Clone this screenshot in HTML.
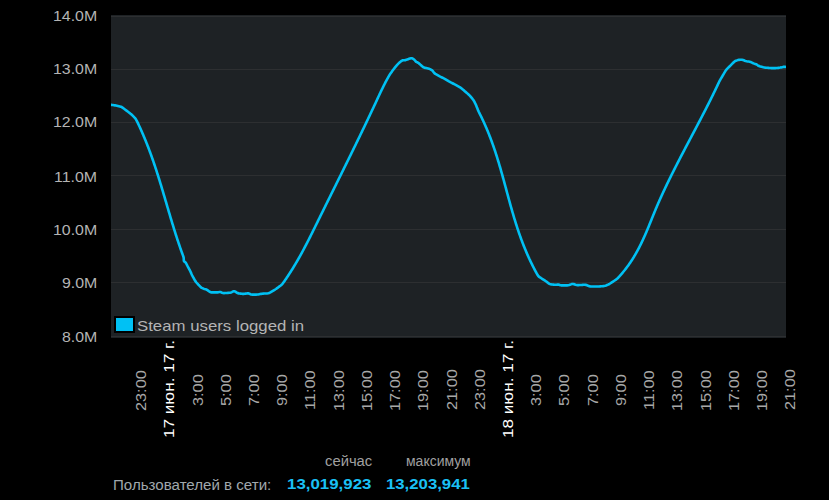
<!DOCTYPE html>
<html><head><meta charset="utf-8"><style>
html,body{margin:0;padding:0;background:#000;width:829px;height:500px;overflow:hidden;position:relative;font-family:"Liberation Sans",sans-serif;}
.plot{position:absolute;left:111px;top:15px;width:675px;height:323px;background:#1e2225;}
.t{position:absolute;left:0;top:0;line-height:20px;white-space:nowrap;transform-origin:0 0;}
.yl{color:#b4b4b4;}
.xl{color:#a8a8a8;}
.xl.w{color:#fff;}
.sw{position:absolute;left:114px;top:316px;width:17px;height:13px;border:2px solid #000;background:#00c1f4;}
.lt{color:#b4b4b4;}
.hd{color:#a0a0a0;}
.lbl{color:#a0a8ad;}
.num{color:#1ac0f5;}
</style></head><body>
<div class="plot"></div>
<svg width="829" height="500" style="position:absolute;left:0;top:0">
<rect x="111" y="16" width="675" height="1" fill="#2d2f31"/>
<rect x="111" y="69" width="675" height="1" fill="#2d2f31"/>
<rect x="111" y="122" width="675" height="1" fill="#2d2f31"/>
<rect x="111" y="175" width="675" height="1" fill="#2d2f31"/>
<rect x="111" y="229" width="675" height="1" fill="#2d2f31"/>
<rect x="111" y="282" width="675" height="1" fill="#2d2f31"/>
<rect x="111" y="336" width="675" height="1" fill="#2d2f31"/>
<defs><clipPath id="pc"><rect x="111" y="15" width="675" height="323"/></clipPath></defs>
<path clip-path="url(#pc)" d="M111.31,104.84 L112.03,104.94 L112.98,105.08 L113.97,105.22 L114.96,105.36 L115.95,105.52 L116.92,105.72 L117.90,105.95 L118.87,106.18 L119.84,106.41 L120.80,106.67 L121.70,107.06 L122.53,107.60 L123.33,108.20 L124.12,108.80 L124.92,109.41 L125.71,110.02 L126.51,110.62 L127.30,111.23 L128.09,111.84 L128.89,112.45 L129.68,113.06 L130.47,113.67 L131.24,114.30 L131.97,114.98 L132.69,115.69 L133.39,116.39 L134.10,117.10 L134.80,117.81 L135.45,118.56 L135.98,119.39 L136.45,120.27 L136.91,121.16 L137.36,122.06 L137.80,122.95 L138.23,123.86 L138.66,124.76 L139.08,125.67 L139.50,126.57 L139.92,127.48 L140.33,128.39 L140.74,129.30 L141.15,130.22 L141.56,131.13 L141.96,132.05 L142.36,132.96 L142.76,133.88 L143.15,134.80 L143.54,135.72 L143.93,136.64 L144.32,137.56 L144.70,138.49 L145.08,139.41 L145.46,140.34 L145.84,141.26 L146.21,142.19 L146.58,143.12 L146.95,144.05 L147.31,144.98 L147.68,145.91 L148.04,146.84 L148.40,147.78 L148.75,148.71 L149.11,149.65 L149.46,150.59 L149.81,151.52 L150.16,152.46 L150.50,153.40 L150.84,154.34 L151.18,155.28 L151.52,156.22 L151.85,157.16 L152.18,158.11 L152.52,159.05 L152.84,159.99 L153.17,160.94 L153.50,161.88 L153.82,162.83 L154.14,163.78 L154.46,164.73 L154.78,165.67 L155.10,166.62 L155.42,167.57 L155.73,168.52 L156.04,169.47 L156.35,170.42 L156.66,171.37 L156.97,172.32 L157.27,173.27 L157.58,174.23 L157.88,175.18 L158.18,176.13 L158.48,177.09 L158.78,178.04 L159.07,179.00 L159.37,179.95 L159.67,180.91 L159.96,181.86 L160.26,182.82 L160.55,183.78 L160.84,184.73 L161.13,185.69 L161.42,186.65 L161.71,187.60 L162.00,188.56 L162.29,189.52 L162.57,190.48 L162.86,191.43 L163.14,192.39 L163.43,193.35 L163.71,194.31 L164.00,195.27 L164.28,196.23 L164.56,197.19 L164.84,198.15 L165.13,199.11 L165.41,200.06 L165.69,201.02 L165.98,201.98 L166.26,202.94 L166.54,203.90 L166.82,204.86 L167.10,205.82 L167.38,206.78 L167.66,207.74 L167.95,208.70 L168.23,209.66 L168.51,210.62 L168.80,211.58 L169.08,212.54 L169.37,213.49 L169.65,214.45 L169.93,215.41 L170.22,216.37 L170.50,217.33 L170.79,218.29 L171.08,219.25 L171.37,220.20 L171.66,221.16 L171.95,222.12 L172.24,223.07 L172.53,224.03 L172.82,224.99 L173.11,225.94 L173.41,226.90 L173.70,227.85 L174.00,228.81 L174.29,229.77 L174.59,230.72 L174.89,231.67 L175.19,232.63 L175.49,233.58 L175.80,234.53 L176.10,235.49 L176.41,236.44 L176.72,237.39 L177.03,238.34 L177.34,239.29 L177.65,240.24 L177.97,241.19 L178.29,242.14 L178.61,243.08 L178.93,244.03 L179.25,244.98 L179.57,245.92 L179.90,246.87 L180.22,247.82 L180.55,248.76 L180.88,249.70 L181.21,250.65 L181.55,251.59 L181.89,252.53 L182.23,253.47 L182.57,254.41 L182.92,255.35 L183.26,256.29 L183.56,257.23 L183.72,258.20 L183.77,259.20 L183.79,260.19 L183.94,261.09 L184.46,261.71 L185.22,262.19 L185.84,262.87 L186.33,263.73 L186.79,264.62 L187.24,265.51 L187.71,266.39 L188.19,267.27 L188.67,268.14 L189.16,269.02 L189.64,269.89 L190.10,270.78 L190.52,271.68 L190.93,272.60 L191.32,273.52 L191.73,274.43 L192.15,275.34 L192.61,276.23 L193.08,277.11 L193.56,277.98 L194.04,278.86 L194.52,279.74 L195.02,280.60 L195.58,281.42 L196.20,282.21 L196.84,282.98 L197.49,283.74 L198.16,284.47 L198.86,285.19 L199.56,285.91 L200.26,286.62 L200.97,287.31 L201.77,287.87 L202.67,288.28 L203.60,288.65 L204.55,288.97 L205.50,289.23 L206.44,289.54 L207.30,290.00 L208.11,290.58 L208.91,291.18 L209.71,291.77 L210.56,292.21 L211.50,292.38 L212.50,292.40 L213.50,292.40 L214.50,292.40 L215.50,292.40 L216.50,292.40 L217.49,292.37 L218.47,292.23 L219.41,292.01 L220.33,291.99 L221.23,292.30 L222.12,292.73 L223.04,293.04 L224.01,293.12 L225.00,293.07 L226.00,293.01 L227.00,292.94 L228.00,292.88 L228.99,292.81 L229.98,292.71 L230.93,292.47 L231.82,292.06 L232.70,291.59 L233.57,291.20 L234.41,291.20 L235.24,291.62 L236.06,292.18 L236.89,292.73 L237.77,293.14 L238.73,293.36 L239.71,293.51 L240.70,293.64 L241.69,293.78 L242.69,293.89 L243.68,293.90 L244.66,293.79 L245.65,293.64 L246.64,293.50 L247.63,293.37 L248.58,293.41 L249.48,293.73 L250.35,294.18 L251.27,294.49 L252.24,294.59 L253.24,294.60 L254.24,294.60 L255.24,294.60 L256.24,294.60 L257.24,294.57 L258.23,294.47 L259.21,294.29 L260.19,294.09 L261.17,293.89 L262.15,293.71 L263.14,293.60 L264.14,293.55 L265.14,293.51 L266.14,293.48 L267.13,293.43 L268.11,293.31 L269.03,292.99 L269.90,292.53 L270.77,292.03 L271.63,291.53 L272.50,291.03 L273.36,290.53 L274.23,290.02 L275.09,289.52 L275.94,288.99 L276.76,288.42 L277.57,287.83 L278.37,287.23 L279.17,286.63 L279.97,286.04 L280.77,285.44 L281.55,284.82 L282.25,284.12 L282.86,283.33 L283.44,282.52 L284.02,281.71 L284.59,280.89 L285.16,280.06 L285.73,279.24 L286.29,278.41 L286.85,277.59 L287.41,276.75 L287.96,275.92 L288.52,275.09 L289.06,274.25 L289.61,273.41 L290.15,272.57 L290.69,271.73 L291.22,270.88 L291.76,270.04 L292.29,269.19 L292.81,268.34 L293.33,267.49 L293.85,266.63 L294.37,265.78 L294.89,264.92 L295.40,264.06 L295.91,263.20 L296.42,262.34 L296.92,261.48 L297.42,260.61 L297.92,259.74 L298.42,258.88 L298.91,258.01 L299.40,257.14 L299.89,256.26 L300.38,255.39 L300.86,254.51 L301.34,253.64 L301.82,252.76 L302.30,251.88 L302.78,251.00 L303.25,250.12 L303.72,249.24 L304.19,248.36 L304.66,247.47 L305.13,246.59 L305.59,245.70 L306.05,244.82 L306.51,243.93 L306.97,243.04 L307.43,242.15 L307.89,241.26 L308.34,240.37 L308.80,239.48 L309.25,238.59 L309.70,237.70 L310.15,236.80 L310.60,235.91 L311.04,235.01 L311.49,234.12 L311.94,233.22 L312.38,232.33 L312.83,231.43 L313.27,230.54 L313.71,229.64 L314.16,228.74 L314.60,227.85 L315.04,226.95 L315.48,226.05 L315.93,225.16 L316.37,224.26 L316.81,223.36 L317.25,222.46 L317.69,221.57 L318.13,220.67 L318.57,219.77 L319.01,218.88 L319.46,217.98 L319.90,217.08 L320.34,216.19 L320.78,215.29 L321.23,214.39 L321.67,213.49 L322.11,212.60 L322.55,211.70 L323.00,210.80 L323.44,209.91 L323.88,209.01 L324.32,208.11 L324.77,207.22 L325.21,206.32 L325.65,205.43 L326.10,204.53 L326.54,203.63 L326.99,202.74 L327.43,201.84 L327.87,200.94 L328.32,200.05 L328.76,199.15 L329.20,198.26 L329.65,197.36 L330.09,196.46 L330.53,195.57 L330.98,194.67 L331.42,193.77 L331.87,192.88 L332.31,191.98 L332.75,191.09 L333.20,190.19 L333.64,189.30 L334.09,188.40 L334.53,187.50 L334.97,186.61 L335.42,185.71 L335.86,184.81 L336.31,183.92 L336.75,183.02 L337.19,182.13 L337.64,181.23 L338.08,180.33 L338.52,179.44 L338.97,178.54 L339.41,177.65 L339.86,176.75 L340.30,175.85 L340.74,174.96 L341.18,174.06 L341.63,173.16 L342.07,172.27 L342.51,171.37 L342.95,170.47 L343.40,169.58 L343.84,168.68 L344.28,167.78 L344.72,166.88 L345.17,165.99 L345.61,165.09 L346.05,164.19 L346.49,163.30 L346.94,162.40 L347.38,161.50 L347.82,160.61 L348.26,159.71 L348.70,158.81 L349.15,157.92 L349.59,157.02 L350.03,156.12 L350.47,155.22 L350.91,154.32 L351.35,153.43 L351.79,152.53 L352.23,151.63 L352.67,150.73 L353.11,149.83 L353.54,148.94 L353.98,148.04 L354.42,147.14 L354.86,146.24 L355.30,145.34 L355.73,144.44 L356.17,143.54 L356.61,142.64 L357.05,141.74 L357.48,140.84 L357.92,139.94 L358.36,139.04 L358.80,138.15 L359.23,137.25 L359.67,136.35 L360.10,135.45 L360.54,134.54 L360.97,133.64 L361.41,132.74 L361.84,131.84 L362.28,130.94 L362.71,130.04 L363.14,129.14 L363.58,128.24 L364.01,127.34 L364.44,126.44 L364.87,125.53 L365.31,124.63 L365.74,123.73 L366.17,122.83 L366.60,121.93 L367.03,121.02 L367.46,120.12 L367.89,119.22 L368.32,118.31 L368.75,117.41 L369.18,116.51 L369.60,115.60 L370.03,114.70 L370.46,113.80 L370.89,112.89 L371.32,111.99 L371.74,111.08 L372.17,110.18 L372.60,109.27 L373.02,108.37 L373.45,107.46 L373.87,106.56 L374.29,105.65 L374.72,104.75 L375.14,103.84 L375.56,102.93 L375.98,102.03 L376.41,101.12 L376.83,100.21 L377.25,99.31 L377.67,98.40 L378.09,97.49 L378.51,96.58 L378.93,95.68 L379.36,94.77 L379.78,93.87 L380.21,92.97 L380.64,92.06 L381.07,91.16 L381.50,90.26 L381.93,89.35 L382.37,88.46 L382.82,87.56 L383.27,86.67 L383.71,85.77 L384.16,84.88 L384.61,83.98 L385.06,83.09 L385.51,82.20 L385.98,81.32 L386.47,80.44 L386.95,79.57 L387.44,78.69 L387.92,77.82 L388.41,76.95 L388.89,76.07 L389.39,75.21 L389.93,74.36 L390.50,73.54 L391.08,72.73 L391.66,71.91 L392.24,71.10 L392.82,70.29 L393.41,69.48 L394.02,68.68 L394.64,67.90 L395.26,67.12 L395.89,66.34 L396.52,65.57 L397.19,64.83 L397.89,64.11 L398.60,63.40 L399.31,62.70 L400.05,62.03 L400.83,61.41 L401.64,60.84 L402.48,60.36 L403.38,60.19 L404.34,60.24 L405.30,60.15 L406.24,59.86 L407.17,59.51 L408.11,59.17 L409.06,58.85 L410.01,58.53 L410.95,58.29 L411.87,58.31 L412.75,58.67 L413.60,59.17 L414.37,59.77 L415.00,60.52 L415.59,61.30 L416.30,61.92 L417.17,62.31 L418.06,62.71 L418.85,63.29 L419.59,63.95 L420.33,64.62 L421.07,65.29 L421.81,65.97 L422.56,66.63 L423.34,67.22 L424.22,67.62 L425.18,67.88 L426.15,68.11 L427.12,68.34 L428.10,68.56 L429.07,68.80 L430.01,69.11 L430.89,69.55 L431.74,70.07 L432.50,70.69 L433.12,71.45 L433.69,72.27 L434.28,73.06 L435.00,73.72 L435.84,74.24 L436.71,74.73 L437.58,75.21 L438.46,75.69 L439.34,76.16 L440.23,76.62 L441.13,77.06 L442.02,77.51 L442.92,77.96 L443.81,78.41 L444.70,78.87 L445.56,79.36 L446.42,79.89 L447.27,80.42 L448.11,80.94 L448.97,81.45 L449.86,81.92 L450.75,82.37 L451.64,82.82 L452.54,83.27 L453.43,83.72 L454.32,84.16 L455.21,84.62 L456.10,85.09 L456.98,85.57 L457.86,86.04 L458.73,86.52 L459.60,87.02 L460.42,87.58 L461.20,88.20 L461.97,88.84 L462.74,89.48 L463.51,90.12 L464.27,90.76 L465.03,91.41 L465.79,92.07 L466.54,92.72 L467.30,93.38 L468.05,94.04 L468.80,94.70 L469.52,95.39 L470.19,96.13 L470.84,96.89 L471.48,97.66 L472.12,98.42 L472.76,99.20 L473.36,99.99 L473.89,100.83 L474.35,101.71 L474.80,102.61 L475.25,103.50 L475.69,104.40 L476.10,105.31 L476.48,106.23 L476.85,107.16 L477.22,108.09 L477.58,109.02 L477.95,109.95 L478.33,110.88 L478.74,111.79 L479.18,112.68 L479.64,113.57 L480.09,114.47 L480.53,115.36 L480.98,116.26 L481.42,117.16 L481.85,118.06 L482.28,118.96 L482.71,119.86 L483.14,120.77 L483.56,121.68 L483.97,122.58 L484.39,123.49 L484.80,124.41 L485.20,125.32 L485.60,126.24 L486.00,127.15 L486.40,128.07 L486.79,128.99 L487.18,129.91 L487.56,130.84 L487.94,131.76 L488.31,132.69 L488.69,133.62 L489.06,134.55 L489.43,135.48 L489.79,136.41 L490.15,137.34 L490.51,138.27 L490.86,139.21 L491.21,140.15 L491.56,141.08 L491.90,142.02 L492.24,142.96 L492.58,143.90 L492.92,144.85 L493.25,145.79 L493.58,146.73 L493.90,147.68 L494.23,148.63 L494.55,149.57 L494.87,150.52 L495.18,151.47 L495.49,152.42 L495.80,153.37 L496.11,154.32 L496.42,155.27 L496.72,156.23 L497.02,157.18 L497.32,158.14 L497.61,159.09 L497.91,160.05 L498.20,161.00 L498.49,161.96 L498.78,162.92 L499.07,163.88 L499.35,164.83 L499.63,165.79 L499.92,166.75 L500.20,167.71 L500.48,168.67 L500.75,169.63 L501.02,170.60 L501.29,171.56 L501.57,172.52 L501.84,173.48 L502.11,174.45 L502.38,175.41 L502.65,176.37 L502.91,177.34 L503.18,178.30 L503.45,179.26 L503.71,180.23 L503.98,181.19 L504.24,182.16 L504.50,183.12 L504.77,184.09 L505.03,185.05 L505.29,186.02 L505.55,186.98 L505.81,187.95 L506.07,188.91 L506.33,189.88 L506.59,190.84 L506.85,191.81 L507.11,192.78 L507.37,193.74 L507.63,194.71 L507.89,195.67 L508.15,196.64 L508.42,197.60 L508.68,198.57 L508.94,199.53 L509.21,200.50 L509.48,201.46 L509.74,202.42 L510.00,203.39 L510.27,204.35 L510.54,205.32 L510.81,206.28 L511.08,207.24 L511.35,208.20 L511.63,209.17 L511.90,210.13 L512.18,211.09 L512.45,212.05 L512.73,213.01 L513.01,213.97 L513.29,214.93 L513.58,215.89 L513.86,216.85 L514.15,217.80 L514.44,218.76 L514.73,219.72 L515.02,220.67 L515.32,221.63 L515.62,222.58 L515.92,223.54 L516.22,224.49 L516.52,225.45 L516.83,226.40 L517.14,227.35 L517.45,228.30 L517.76,229.25 L518.08,230.20 L518.40,231.14 L518.72,232.09 L519.04,233.04 L519.37,233.98 L519.70,234.93 L520.03,235.87 L520.37,236.81 L520.71,237.75 L521.05,238.69 L521.40,239.63 L521.74,240.57 L522.10,241.50 L522.45,242.44 L522.80,243.37 L523.17,244.30 L523.53,245.24 L523.90,246.17 L524.27,247.09 L524.65,248.02 L525.03,248.95 L525.41,249.87 L525.79,250.79 L526.18,251.71 L526.57,252.63 L526.97,253.55 L527.37,254.47 L527.77,255.39 L528.18,256.30 L528.59,257.21 L529.01,258.12 L529.42,259.03 L529.85,259.93 L530.27,260.84 L530.70,261.74 L531.13,262.64 L531.57,263.54 L532.01,264.44 L532.46,265.33 L532.91,266.23 L533.36,267.12 L533.82,268.01 L534.28,268.90 L534.74,269.78 L535.21,270.67 L535.68,271.55 L536.16,272.43 L536.64,273.30 L537.13,274.18 L537.62,275.05 L538.15,275.88 L538.81,276.59 L539.61,277.17 L540.45,277.71 L541.29,278.25 L542.14,278.78 L542.98,279.32 L543.82,279.86 L544.66,280.40 L545.48,280.97 L546.29,281.57 L547.09,282.16 L547.89,282.76 L548.69,283.36 L549.52,283.89 L550.42,284.22 L551.40,284.38 L552.39,284.50 L553.38,284.61 L554.38,284.71 L555.37,284.74 L556.37,284.69 L557.36,284.62 L558.35,284.62 L559.29,284.83 L560.21,285.15 L561.17,285.35 L562.16,285.40 L563.16,285.40 L564.16,285.40 L565.16,285.40 L566.16,285.40 L567.16,285.39 L568.14,285.31 L569.10,285.07 L570.03,284.73 L570.97,284.37 L571.90,284.05 L572.84,283.92 L573.78,284.10 L574.72,284.41 L575.67,284.73 L576.62,285.00 L577.59,285.13 L578.59,285.11 L579.58,285.05 L580.58,284.99 L581.58,284.94 L582.58,284.88 L583.58,284.82 L584.57,284.78 L585.55,284.83 L586.50,285.08 L587.42,285.45 L588.34,285.84 L589.26,286.19 L590.23,286.38 L591.22,286.43 L592.22,286.46 L593.22,286.48 L594.22,286.51 L595.22,286.53 L596.22,286.55 L597.22,286.57 L598.22,286.56 L599.21,286.50 L600.21,286.40 L601.20,286.30 L602.20,286.19 L603.19,286.09 L604.18,285.97 L605.15,285.77 L606.09,285.44 L607.02,285.07 L607.94,284.69 L608.84,284.26 L609.70,283.76 L610.54,283.22 L611.37,282.67 L612.21,282.11 L613.04,281.56 L613.88,281.01 L614.71,280.46 L615.54,279.91 L616.36,279.34 L617.13,278.71 L617.84,278.01 L618.52,277.28 L619.21,276.55 L619.88,275.81 L620.54,275.06 L621.20,274.31 L621.86,273.56 L622.51,272.80 L623.15,272.03 L623.78,271.25 L624.41,270.48 L625.04,269.70 L625.65,268.91 L626.26,268.11 L626.87,267.32 L627.46,266.52 L628.05,265.71 L628.63,264.90 L629.21,264.08 L629.78,263.26 L630.35,262.43 L630.91,261.60 L631.46,260.77 L632.00,259.93 L632.54,259.09 L633.07,258.24 L633.60,257.39 L634.11,256.53 L634.63,255.68 L635.14,254.82 L635.64,253.95 L636.13,253.08 L636.62,252.21 L637.11,251.33 L637.58,250.46 L638.06,249.58 L638.53,248.69 L638.99,247.80 L639.45,246.92 L639.90,246.03 L640.35,245.13 L640.79,244.23 L641.23,243.34 L641.67,242.44 L642.09,241.53 L642.52,240.63 L642.94,239.72 L643.36,238.81 L643.78,237.90 L644.19,236.99 L644.59,236.08 L645.00,235.16 L645.40,234.25 L645.80,233.33 L646.19,232.41 L646.59,231.49 L646.98,230.57 L647.36,229.65 L647.75,228.73 L648.13,227.80 L648.51,226.88 L648.89,225.95 L649.27,225.03 L649.65,224.10 L650.02,223.17 L650.40,222.25 L650.77,221.32 L651.15,220.39 L651.52,219.47 L651.90,218.54 L652.27,217.61 L652.64,216.68 L653.02,215.76 L653.40,214.83 L653.78,213.91 L654.16,212.98 L654.54,212.06 L654.92,211.13 L655.30,210.21 L655.68,209.28 L656.07,208.36 L656.46,207.44 L656.85,206.52 L657.24,205.60 L657.64,204.68 L658.03,203.76 L658.43,202.85 L658.83,201.93 L659.24,201.01 L659.64,200.10 L660.05,199.19 L660.46,198.27 L660.87,197.36 L661.28,196.45 L661.70,195.54 L662.11,194.63 L662.53,193.72 L662.95,192.81 L663.37,191.91 L663.79,191.00 L664.21,190.10 L664.64,189.19 L665.07,188.29 L665.50,187.38 L665.92,186.48 L666.35,185.58 L666.79,184.68 L667.22,183.77 L667.65,182.87 L668.09,181.97 L668.53,181.07 L668.97,180.18 L669.40,179.28 L669.84,178.38 L670.28,177.48 L670.73,176.58 L671.17,175.69 L671.62,174.79 L672.06,173.90 L672.51,173.00 L672.96,172.11 L673.40,171.21 L673.85,170.32 L674.31,169.43 L674.76,168.54 L675.21,167.65 L675.67,166.75 L676.12,165.86 L676.57,164.97 L677.03,164.08 L677.49,163.19 L677.94,162.30 L678.40,161.42 L678.86,160.53 L679.32,159.64 L679.78,158.75 L680.24,157.86 L680.70,156.97 L681.16,156.09 L681.62,155.20 L682.08,154.31 L682.55,153.43 L683.01,152.54 L683.47,151.65 L683.94,150.77 L684.40,149.88 L684.87,149.00 L685.33,148.11 L685.79,147.22 L686.26,146.34 L686.72,145.45 L687.19,144.57 L687.66,143.69 L688.12,142.80 L688.59,141.92 L689.05,141.03 L689.52,140.15 L689.99,139.26 L690.46,138.38 L690.93,137.50 L691.39,136.61 L691.86,135.73 L692.32,134.84 L692.79,133.96 L693.26,133.07 L693.72,132.19 L694.19,131.30 L694.65,130.42 L695.12,129.53 L695.59,128.65 L696.05,127.76 L696.52,126.88 L696.98,125.99 L697.45,125.11 L697.92,124.22 L698.38,123.34 L698.85,122.45 L699.31,121.57 L699.77,120.68 L700.24,119.80 L700.70,118.91 L701.16,118.02 L701.62,117.13 L702.08,116.25 L702.54,115.36 L703.00,114.47 L703.46,113.58 L703.92,112.69 L704.37,111.80 L704.83,110.91 L705.29,110.03 L705.75,109.14 L706.20,108.25 L706.66,107.35 L707.11,106.46 L707.56,105.57 L708.01,104.68 L708.46,103.79 L708.92,102.89 L709.37,102.00 L709.82,101.11 L710.26,100.21 L710.71,99.32 L711.15,98.42 L711.60,97.53 L712.04,96.63 L712.48,95.73 L712.92,94.83 L713.36,93.94 L713.80,93.04 L714.24,92.14 L714.68,91.24 L715.11,90.34 L715.55,89.44 L715.98,88.54 L716.41,87.64 L716.84,86.73 L717.27,85.83 L717.70,84.92 L718.12,84.02 L718.54,83.11 L718.97,82.21 L719.40,81.31 L719.88,80.43 L720.38,79.56 L720.88,78.70 L721.39,77.84 L721.90,76.98 L722.40,76.11 L722.91,75.25 L723.42,74.39 L723.92,73.53 L724.43,72.67 L724.94,71.81 L725.45,70.95 L726.01,70.12 L726.65,69.37 L727.35,68.65 L728.05,67.95 L728.76,67.24 L729.47,66.53 L730.18,65.82 L730.88,65.12 L731.59,64.41 L732.30,63.70 L733.00,63.00 L733.71,62.29 L734.44,61.61 L735.23,61.05 L736.13,60.67 L737.09,60.37 L738.05,60.09 L739.01,59.87 L740.00,59.75 L741.00,59.69 L741.98,59.72 L742.93,59.94 L743.85,60.30 L744.78,60.68 L745.71,61.03 L746.67,61.27 L747.66,61.43 L748.65,61.57 L749.63,61.74 L750.58,62.00 L751.49,62.40 L752.39,62.84 L753.29,63.27 L754.21,63.63 L755.16,63.92 L756.10,64.25 L756.95,64.72 L757.77,65.29 L758.61,65.82 L759.51,66.20 L760.47,66.49 L761.43,66.76 L762.39,67.02 L763.36,67.28 L764.33,67.48 L765.32,67.62 L766.32,67.72 L767.31,67.82 L768.31,67.91 L769.30,68.01 L770.30,68.07 L771.30,68.10 L772.30,68.10 L773.30,68.10 L774.30,68.10 L775.30,68.09 L776.30,68.05 L777.29,67.96 L778.28,67.84 L779.27,67.71 L780.26,67.58 L781.24,67.39 L782.21,67.14 L783.17,66.88 L784.13,66.77 L785.06,66.88 L785.77,67.04 L785.77,67.04" fill="none" stroke="#00c1f4" stroke-width="2.6" stroke-linejoin="round" stroke-linecap="round"/>
</svg>
<div class="sw"></div>
<div class="t yl" style="left:53.16px;top:6.00px;font-size:14px;transform:scaleX(1.1351)">14.0M</div>
<div class="t yl" style="left:53.16px;top:59.20px;font-size:14px;transform:scaleX(1.1351)">13.0M</div>
<div class="t yl" style="left:53.16px;top:112.40px;font-size:14px;transform:scaleX(1.1351)">12.0M</div>
<div class="t yl" style="left:54.30px;top:166.60px;font-size:14px;transform:scaleX(1.1351)">11.0M</div>
<div class="t yl" style="left:53.16px;top:219.80px;font-size:14px;transform:scaleX(1.1351)">10.0M</div>
<div class="t yl" style="left:62.25px;top:273.00px;font-size:14px;transform:scaleX(1.1351)">9.0M</div>
<div class="t yl" style="left:62.25px;top:327.20px;font-size:14px;transform:scaleX(1.1351)">8.0M</div>
<div class="t lt" style="left:136.68px;top:315.60px;font-size:15px;transform:scaleX(1.1196)">Steam users logged in</div>
<div class="t lbl" style="left:113.42px;top:474.50px;font-size:14px;transform:scaleX(1.0779)">Пользователей в сети:</div>
<div class="t num" style="left:286.60px;top:474.30px;font-size:14px;font-weight:bold;transform:scaleX(1.2043)">13,019,923</div>
<div class="t num" style="left:385.80px;top:474.30px;font-size:14px;font-weight:bold;transform:scaleX(1.1957)">13,203,941</div>
<div class="t hd" style="left:325.20px;top:450.60px;font-size:14px;transform:scaleX(1.0568)">сейчас</div>
<div class="t hd" style="left:406.30px;top:450.60px;font-size:14px;transform:scaleX(0.9984)">максимум</div>
<div class="t xl" style="left:131.06px;top:410.90px;font-size:14px;transform:rotate(-90deg) scaleX(1.1629)">23:00</div>
<div class="t xl w" style="left:159.29px;top:438.42px;font-size:14px;transform:rotate(-90deg) scaleX(1.2231)">17 июн. 17 г.</div>
<div class="t xl" style="left:187.51px;top:405.70px;font-size:14px;transform:rotate(-90deg) scaleX(1.1629)">3:00</div>
<div class="t xl" style="left:215.74px;top:406.28px;font-size:14px;transform:rotate(-90deg) scaleX(1.1629)">5:00</div>
<div class="t xl" style="left:243.97px;top:405.70px;font-size:14px;transform:rotate(-90deg) scaleX(1.1629)">7:00</div>
<div class="t xl" style="left:272.20px;top:406.28px;font-size:14px;transform:rotate(-90deg) scaleX(1.1629)">9:00</div>
<div class="t xl" style="left:300.42px;top:410.35px;font-size:14px;transform:rotate(-90deg) scaleX(1.1629)">11:00</div>
<div class="t xl" style="left:328.65px;top:410.93px;font-size:14px;transform:rotate(-90deg) scaleX(1.1629)">13:00</div>
<div class="t xl" style="left:356.88px;top:410.93px;font-size:14px;transform:rotate(-90deg) scaleX(1.1629)">15:00</div>
<div class="t xl" style="left:385.10px;top:410.93px;font-size:14px;transform:rotate(-90deg) scaleX(1.1629)">17:00</div>
<div class="t xl" style="left:413.33px;top:410.93px;font-size:14px;transform:rotate(-90deg) scaleX(1.1629)">19:00</div>
<div class="t xl" style="left:441.56px;top:410.35px;font-size:14px;transform:rotate(-90deg) scaleX(1.1629)">21:00</div>
<div class="t xl" style="left:469.78px;top:410.35px;font-size:14px;transform:rotate(-90deg) scaleX(1.1629)">23:00</div>
<div class="t xl w" style="left:498.01px;top:438.42px;font-size:14px;transform:rotate(-90deg) scaleX(1.2231)">18 июн. 17 г.</div>
<div class="t xl" style="left:526.24px;top:405.70px;font-size:14px;transform:rotate(-90deg) scaleX(1.1629)">3:00</div>
<div class="t xl" style="left:554.47px;top:406.28px;font-size:14px;transform:rotate(-90deg) scaleX(1.1629)">5:00</div>
<div class="t xl" style="left:582.69px;top:405.70px;font-size:14px;transform:rotate(-90deg) scaleX(1.1629)">7:00</div>
<div class="t xl" style="left:610.92px;top:406.28px;font-size:14px;transform:rotate(-90deg) scaleX(1.1629)">9:00</div>
<div class="t xl" style="left:639.15px;top:410.35px;font-size:14px;transform:rotate(-90deg) scaleX(1.1629)">11:00</div>
<div class="t xl" style="left:667.37px;top:410.93px;font-size:14px;transform:rotate(-90deg) scaleX(1.1629)">13:00</div>
<div class="t xl" style="left:695.60px;top:410.93px;font-size:14px;transform:rotate(-90deg) scaleX(1.1629)">15:00</div>
<div class="t xl" style="left:723.83px;top:410.93px;font-size:14px;transform:rotate(-90deg) scaleX(1.1629)">17:00</div>
<div class="t xl" style="left:752.05px;top:410.93px;font-size:14px;transform:rotate(-90deg) scaleX(1.1629)">19:00</div>
<div class="t xl" style="left:780.28px;top:410.35px;font-size:14px;transform:rotate(-90deg) scaleX(1.1629)">21:00</div>
</body></html>
